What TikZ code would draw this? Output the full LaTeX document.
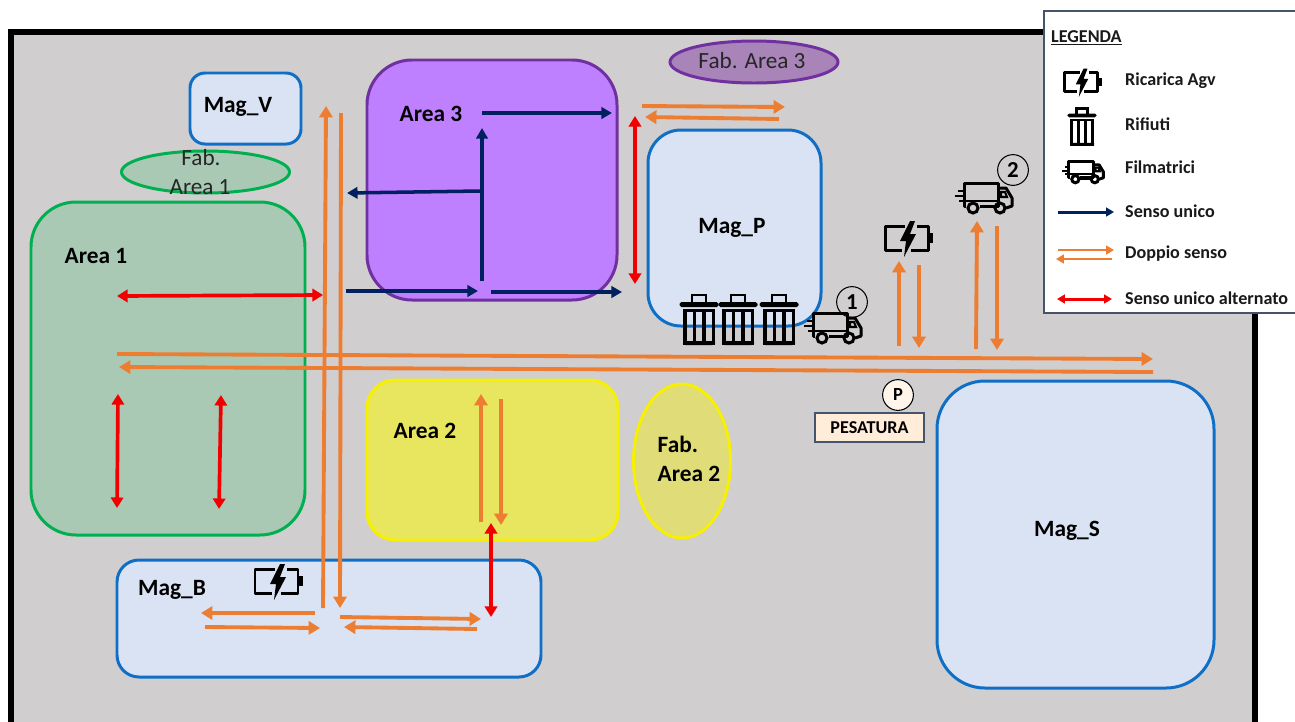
\documentclass[tikz,border=0pt]{standalone}
\usepackage{fontspec}
\setmainfont{Carlito}
\usetikzlibrary{arrows.meta,shapes.geometric}
\definecolor{floorgray}{HTML}{D0CECE}
\definecolor{magfill}{HTML}{DAE3F3}
\definecolor{magline}{HTML}{0F6FC6}
\definecolor{greenfill}{HTML}{A9C9B5}
\definecolor{greenline}{HTML}{00B050}
\definecolor{violetfill}{HTML}{BF80FF}
\definecolor{violetline}{HTML}{7030A0}
\definecolor{fabviolet}{HTML}{A884B8}
\definecolor{yellowfill}{HTML}{E8E65F}
\definecolor{yellowline}{HTML}{F7F000}
\definecolor{fabyellow}{HTML}{E0DC78}
\definecolor{orangeway}{HTML}{ED7D31}
\definecolor{navyway}{HTML}{002060}
\definecolor{redway}{HTML}{F00000}
\definecolor{slateline}{HTML}{44546A}
\tikzset{
  boxarea/.style={draw,line width=1.7pt,rectangle,inner sep=0pt,minimum width=#1},
  fabarea/.style={draw,line width=1.7pt,ellipse,inner sep=0pt},
  boldlabel/.style={font=\fontsize{13.3}{15}\selectfont\bfseries,text=black},
  keylabel/.style={font=\fontsize{10.3}{12}\selectfont\bfseries,text=black!90,anchor=west},
  fablabel/.style={font=\fontsize{13.2}{15}\selectfont,text=black!85},
  numdot/.style={draw,circle,line width=0.6pt,minimum size=17.5pt,inner sep=0pt,font=\fontsize{13}{15}\selectfont\bfseries},
  oneway/.style={navyway,line width=2pt,-{Triangle[length=6pt,width=6.5pt]}},
  twoway/.style={orangeway,line width=2.2pt,-{Triangle[length=6.5pt,width=7.5pt]}},
  altway/.style={redway,line width=2.1pt,{Triangle[length=6pt,width=7pt]}-{Triangle[length=6pt,width=7pt]}},
  pics/battery/.style={code={
    \draw[line width=1.7pt,line join=round] (-3,-12) -- (-23,-12) -- (-23,12) -- (-6,12);
    \draw[line width=1.7pt,line join=round] (9,-12) -- (20,-12) -- (20,12) -- (3,12);
    \fill (21,-5) rectangle (25,5);
    \fill (2,-17) -- (-8,3) -- (-2,3) -- (-4,19) -- (8,-4) -- (2,-4) -- (7,-17) -- cycle;
  }},
  pics/bin/.style={code={
    \fill[rounded corners=1pt] (-19.5,-18) rectangle (19.5,-13);
    \draw[line width=1.5pt] (-7,-16) -- (-7,-25) -- (7,-25) -- (7,-16);
    \foreach \slot in {-16,-6.5,3,12.5}
      \fill (\slot,-11) rectangle (\slot+3.5,25);
    \fill (-16,-11) rectangle (16,-8);
    \fill[rounded corners=1.5pt] (-16,21) rectangle (16,25);
  }},
  pics/truck/.style={code={
    \draw[line width=1.7pt,line join=round] (-19,8) -- (-21,8) -- (-21,-15) -- (13,-15) -- (13,8) -- (-5,8);
    \draw[line width=1.7pt,line join=round] (13,-10) -- (21,-10) -- (27,0) -- (27,8) -- (21,10);
    \draw[line width=1.5pt] (-21,3) -- (13,3);
    \draw[line width=1.2pt] (16,-6) -- (20,-6) -- (22,-1) -- (16,-1) -- cycle;
    \draw[line width=1.7pt] (-12,10) circle (5);
    \draw[line width=1.7pt] (15,10) circle (5);
    \draw[line width=1.5pt] (-5,9) -- (9,9);
    \draw[line width=1.2pt] (-27,-7) -- (-21,-7);
    \draw[line width=1.2pt] (-30,-2) -- (-21,-2);
    \draw[line width=1.2pt] (-26,3) -- (-21,3);
  }},
}
\begin{document}
\begin{tikzpicture}[x=0.02cm,y=-0.02cm]
  \useasboundingbox (0,0) rectangle (1295,721);
  \clip (0,0) rectangle (1295,721);
  \fill[white] (0,0) rectangle (1295,721);
  \draw[line width=3.4pt,fill=floorgray] (11,32) rectangle (1255,760);

  % areas
  \node[boxarea=274*0.02cm,minimum height=333*0.02cm,rounded corners=45*0.02cm,draw=greenline,fill=greenfill] (area1) at (168,368.5) {};
  \node[fabarea,minimum width=168*0.02cm,minimum height=42*0.02cm,draw=greenline,fill=greenfill] (fab1) at (205.5,172) {};
  \node[boxarea=111*0.02cm,minimum height=71*0.02cm,rounded corners=15*0.02cm,draw=magline,fill=magfill] (magv) at (245.5,108.5) {};
  \node[boxarea=250*0.02cm,minimum height=240*0.02cm,rounded corners=45*0.02cm,draw=violetline,fill=violetfill] (area3) at (492,180) {};
  \node[fabarea,minimum width=168*0.02cm,minimum height=42*0.02cm,draw=violetline,fill=fabviolet] (fab3) at (754,62) {};
  \node[boxarea=173*0.02cm,minimum height=196*0.02cm,rounded corners=33*0.02cm,draw=magline,fill=magfill] (magp) at (734.5,228) {};
  \node[boxarea=251*0.02cm,minimum height=160*0.02cm,rounded corners=28*0.02cm,draw=yellowline,fill=yellowfill] (area2) at (492.5,460) {};
  \node[fabarea,minimum width=97*0.02cm,minimum height=154*0.02cm,draw=yellowline,fill=fabyellow] (fab2) at (682,461) {};
  \node[boxarea=424*0.02cm,minimum height=117*0.02cm,rounded corners=22*0.02cm,draw=magline,fill=magfill] (magb) at (329,618.5) {};
  \node[boxarea=277*0.02cm,minimum height=307*0.02cm,rounded corners=48*0.02cm,draw=magline,fill=magfill] (mags) at (1075.5,534.5) {};

  % labels
  \node[boldlabel] (lab1) at (96,255.5) {Area 1};
  \node[boldlabel] (lab2) at (425,430.5) {Area 2};
  \node[boldlabel] (lab3) at (431,113.5) {Area 3};
  \node[boldlabel] (labv) at (238,107) {Mag\_V};
  \node[boldlabel] (labp) at (732,228) {Mag\_P};
  \node[boldlabel] (labb) at (172,590) {Mag\_B};
  \node[boldlabel] (labs) at (1067,531) {Mag\_S};
  \node[fablabel] (labf1a) at (201,158) {Fab.};
  \node[fablabel] (labf1b) at (200,187) {Area 1};
  \node[fablabel] (labf3) at (752,61) {Fab. Area 3};
  \node[boldlabel,font=\fontsize{13.3}{16.5}\selectfont\bfseries,align=left] (labf2) at (689,459) {Fab.\\Area 2};

  % pesatura
  \node[draw=slateline,line width=0.8pt,fill=orange!15,minimum width=109*0.02cm,minimum height=29*0.02cm,inner sep=0pt,font=\fontsize{10.3}{12}\selectfont\bfseries] (pes) at (869.5,427.5) {PESATURA};
  \node[numdot,fill=orange!8,font=\fontsize{10.5}{12}\selectfont\bfseries] (pdot) at (898,395) {P};
  \node[numdot] (one) at (852,302) {1};
  \node[numdot] (two) at (1013,170) {2};

  % sensi di marcia
  \draw[twoway] (323,608) -- (326,106);
  \draw[twoway] (341,113) -- (340,608);
  \draw[twoway] (642,106) -- (785,107);
  \draw[twoway] (779,119) -- (645,117);
  \draw[twoway] (117,354) -- (1153,359);
  \draw[twoway] (1153,372) -- (119,367);
  \draw[twoway] (899,346) -- (899,261);
  \draw[twoway] (919,265) -- (919,348);
  \draw[twoway] (976,349) -- (977,221);
  \draw[twoway] (997,226) -- (997,350);
  \draw[twoway] (481,522) -- (481,394);
  \draw[twoway] (501,399) -- (501,525);
  \draw[twoway] (315,613) -- (201,613);
  \draw[twoway] (205,627) -- (320,628);
  \draw[twoway] (340,617) -- (481,619);
  \draw[twoway] (477,629) -- (344,627);

  \draw[oneway] (482,113) -- (612,113);
  \draw[oneway] (482,281) -- (482,128);
  \draw[oneway] (480,191) -- (347,193);
  \draw[oneway] (346,291) -- (478,291);
  \draw[oneway] (491,292) -- (622,292);

  \draw[altway] (635,284) -- (635,116);
  \draw[altway] (117,296) -- (323,295);
  \draw[altway] (117,508) -- (118,394);
  \draw[altway] (219,509) -- (221,395);
  \draw[altway] (491,617) -- (491,523);

  % icone
  \pic at (278,581) {battery};
  \pic at (908,238) {battery};
  \foreach \binx in {699,738,779}
    \pic at (\binx,320) {bin};
  \pic at (834,328) {truck};
  \pic at (985,198) {truck};

  % legenda
  \node[draw=slateline,line width=0.7pt,fill=white,minimum width=252*0.02cm,minimum height=302*0.02cm,inner sep=0pt] (legend) at (1170,162) {};
  \node[keylabel] (legtitle) at (1045,38) {\underline{LEGENDA}};
  \node[keylabel] (keybat) at (1119,81) {Ricarica Agv};
  \node[keylabel] (keybin) at (1119,124) {Rifiuti};
  \node[keylabel] (keytruck) at (1119,167) {Filmatrici};
  \node[keylabel] (keyone) at (1119,211) {Senso unico};
  \node[keylabel] (keytwo) at (1119,254) {Doppio senso};
  \node[keylabel] (keyalt) at (1119,298) {Senso unico alternato};
  \pic[scale=0.78] at (1082,82) {battery};
  \pic[scale=0.75] at (1082,127) {bin};
  \pic[scale=0.72] at (1084,172) {truck};
  \draw[oneway,line width=1.7pt,-{Triangle[length=4.5pt,width=5pt]}] (1058,212) -- (1114,212);
  \draw[twoway,line width=1.5pt,-{Triangle[length=4.5pt,width=5pt]}] (1058,250) -- (1114,250);
  \draw[twoway,line width=1.5pt,-{Triangle[length=4.5pt,width=5pt]}] (1112,259) -- (1056,259);
  \draw[altway,line width=1.7pt,{Triangle[length=4.5pt,width=5pt]}-{Triangle[length=4.5pt,width=5pt]}] (1057,299) -- (1112,299);
\end{tikzpicture}
\end{document}
